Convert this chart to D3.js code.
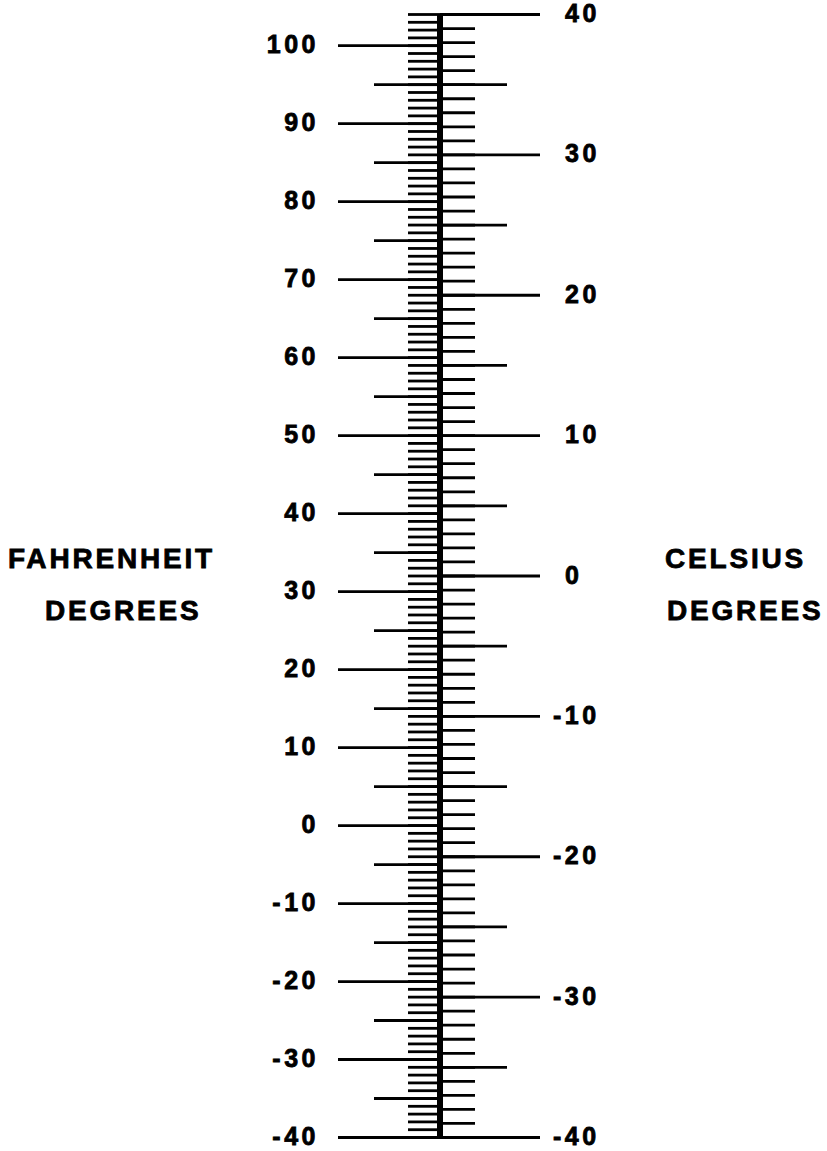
<!DOCTYPE html>
<html>
<head>
<meta charset="utf-8">
<script src="https://cdn.jsdelivr.net/npm/d3@7"></script>
<style>
  body { margin: 0; background: #fff; }
  svg text { font-family: "Liberation Sans", Arial, sans-serif; font-weight: bold; fill: #000; stroke: #000; stroke-width: 0.8px; }
</style>
</head>
<body>
<div id="chart"></div>
<script>
const ink = '#000'

// scale ranges
const fahrenheitDomain = [-40, 104]
const celsiusDomain = [-40, 40]

// tick sets
const fahrenheitMinor = d3.range(-40, 105, 1)
const fahrenheitMid = [-35, -25, -15, -5, 5, 15, 25, 35, 45, 55, 65, 75, 85, 95]
const fahrenheitLabels = [-40, -30, -20, -10, 0, 10, 20, 30, 40, 50, 60, 70, 80, 90, 100]

const celsiusMinor = d3.range(-40, 41, 1)
const celsiusMid = [-35, -25, -15, -5, 5, 15, 25, 35]
const celsiusLabels = [-40, -30, -20, -10, 0, 10, 20, 30, 40]

const W = 827, H = 1151
const axisX = 440
const yTop = 14, yBottom = 1137

const svg = d3.select('#chart').append('svg')
    .attr('width', W)
    .attr('height', H)

const yF = d3.scaleLinear().domain(fahrenheitDomain).range([yBottom, yTop])
const yC = d3.scaleLinear().domain(celsiusDomain).range([yBottom, yTop])

// hyphen rather than the unicode minus, like the print
const fmt = d => d < 0 ? '-' + Math.abs(d) : String(d)

// fahrenheit side, three tick lengths
function fAxis(values, size, labels) {
    const g = svg.append('g')
        .attr('transform', `translate(${axisX},0)`)
        .call(d3.axisLeft(yF).tickValues(values).tickSize(size).tickPadding(20)
            .tickFormat(labels ? fmt : ''))
    g.select('.domain').remove()
    g.selectAll('line').attr('stroke', ink).attr('stroke-width', 2.8)
    g.selectAll('text')
        .attr('font-size', 25)
        .style('letter-spacing', '3.5px')
        .attr('dy', '0.3em')
    return g
}
fAxis(fahrenheitMinor, 32, false)
fAxis(fahrenheitMid, 66, false)
fAxis(fahrenheitLabels, 102, true).selectAll('text').attr('x', -121)

// celsius side
function cAxis(values, size, labels) {
    const g = svg.append('g')
        .attr('transform', `translate(${axisX},0)`)
        .call(d3.axisRight(yC).tickValues(values).tickSize(size).tickPadding(24)
            .tickFormat(labels ? fmt : ''))
    g.select('.domain').remove()
    g.selectAll('line').attr('stroke', ink).attr('stroke-width', 2.8)
    g.selectAll('text')
        .attr('font-size', 25)
        .style('letter-spacing', '3.5px')
        .attr('dy', '0.3em')
    return g
}
cAxis(celsiusMinor, 35, false)
cAxis(celsiusMid, 67, false)
cAxis(celsiusLabels, 100, true).selectAll('text')
    .attr('x', d => 125 - (d < 0 ? 12 : 0))

// the thick stem
svg.append('rect')
    .attr('x', axisX - 3)
    .attr('y', yF(104))
    .attr('width', 6)
    .attr('height', yF(-40) - yF(104) + 2)
    .attr('fill', ink)

// side titles
const titles = [
    {t: 'FAHRENHEIT', x: 8, y: 568},
    {t: 'DEGREES', x: 45, y: 620},
    {t: 'CELSIUS', x: 665, y: 568},
    {t: 'DEGREES', x: 667, y: 620}
]
svg.selectAll('text.title').data(titles).enter().append('text')
    .attr('class', 'title')
    .attr('x', d => d.x)
    .attr('y', d => d.y)
    .attr('font-size', 28)
    .style('letter-spacing', '2.8px')
    .text(d => d.t)
</script>
</body>
</html>
